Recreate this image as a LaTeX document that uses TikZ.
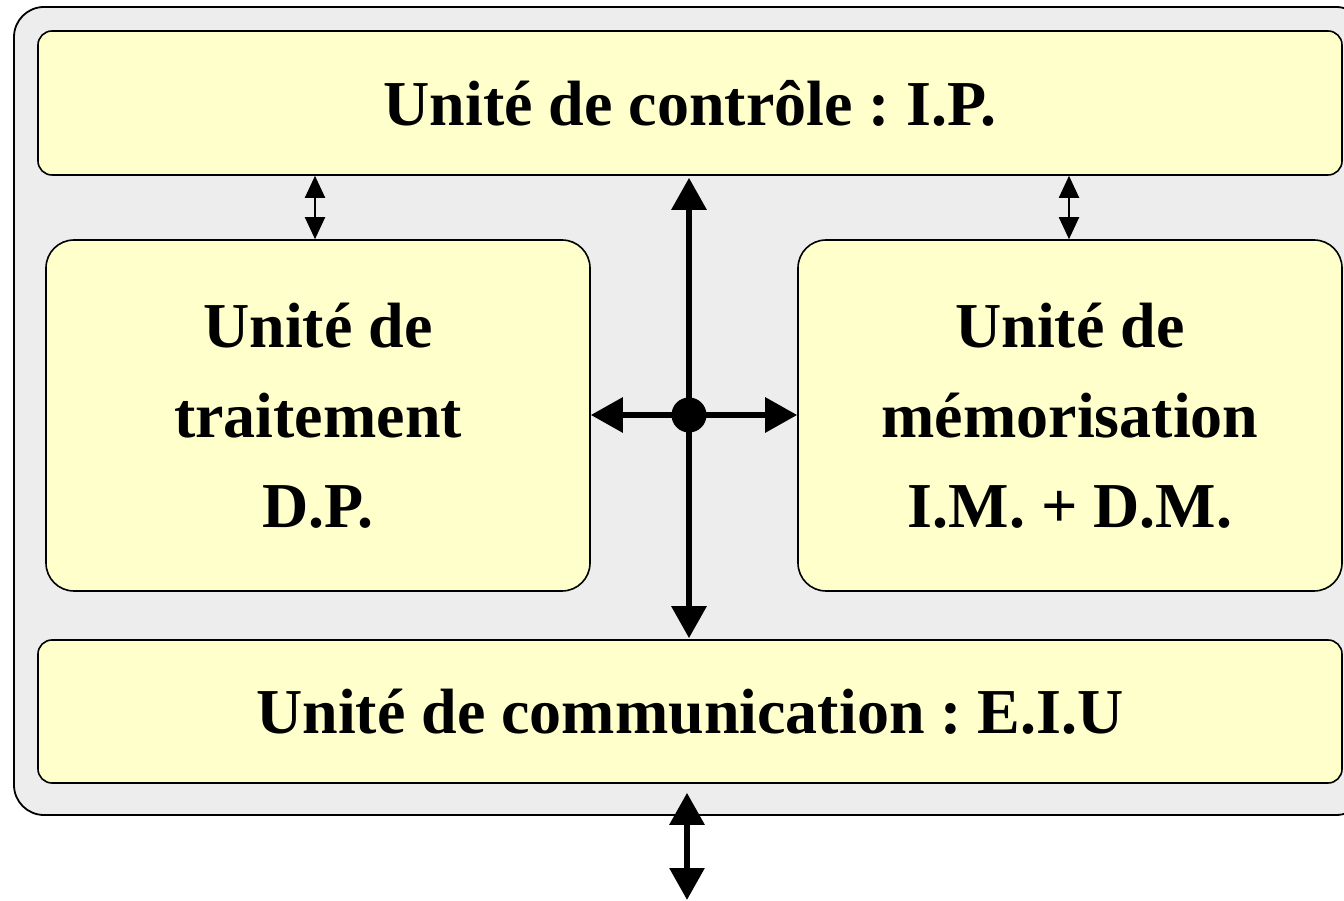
\documentclass[tikz,border=0pt]{standalone}
\usepackage{fontspec}
\setmainfont{Liberation Serif}
\usetikzlibrary{arrows.meta,calc}
\frenchspacing
\definecolor{shell}{HTML}{EDEDED}
\definecolor{unitfill}{HTML}{FFFFCC}
\tikzset{
  unit/.style={draw=black, line width=1.6pt, fill=unitfill, rounded corners=#1,
    align=center, inner sep=0pt,
    font=\fontsize{64}{90}\selectfont\bfseries},
  unit/.default=14pt,
  bus/.style={line width=6pt, {Triangle[width=34pt,length=32pt]}-{Triangle[width=34pt,length=32pt]}},
  link/.style={line width=2pt, {Triangle[width=20pt,length=22pt]}-{Triangle[width=20pt,length=22pt]}}
}
\begin{document}
\begin{tikzpicture}[x=1pt,y=1pt]
  \useasboundingbox (0,0) rectangle (1344,900);
  \clip (0,0) rectangle (1344,900);
  % processor enclosure
  \node[draw=black, line width=1.8pt, fill=shell, rounded corners=30pt,
        minimum width=1352pt, minimum height=808pt, inner sep=0pt] (shellbox) at (690,489) {};
  % units
  \node[unit, minimum width=1304pt, minimum height=144pt] (ctrl) at (690,797) {Unité de contrôle : I.P.};
  \node[unit=28pt, minimum width=544pt, minimum height=351pt] (proc) at (318,484.5)
     {Unité de\\traitement\\D.P.};
  \node[unit=28pt, minimum width=544pt, minimum height=351pt] (mem) at (1070,484.5)
     {Unité de\\mémorisation\\I.M. + D.M.};
  \node[unit, minimum width=1304pt, minimum height=143pt] (comm) at (690,188.5)
     {Unité de communication : E.I.U};
  % internal bus
  \coordinate (hub) at (689,485);
  \coordinate (busTop) at ($(ctrl.south -| hub)+(0,-2)$);
  \coordinate (busBot) at ($(comm.north -| hub)+(0,1)$);
  \draw[bus] (busTop) -- (busBot);
  \draw[line width=6pt, {Triangle[width=34pt,length=32pt]}-] (proc.east |- hub) -- (hub);
  \draw[line width=6pt, -{Triangle[width=34pt,length=32pt]}] (hub) -- (mem.west |- hub);
  \fill (hub) circle (17.5pt);
  % control links
  \coordinate (lkP) at (315,0);
  \coordinate (lkM) at (1069,0);
  \draw[link] (ctrl.south -| lkP) -- (proc.north -| lkP);
  \draw[link] (ctrl.south -| lkM) -- (mem.north -| lkM);
  % external port
  \coordinate (port) at (687,0);
  \draw[bus] ($(comm.south -| port)+(0,-9)$) -- (port);
\end{tikzpicture}
\end{document}
